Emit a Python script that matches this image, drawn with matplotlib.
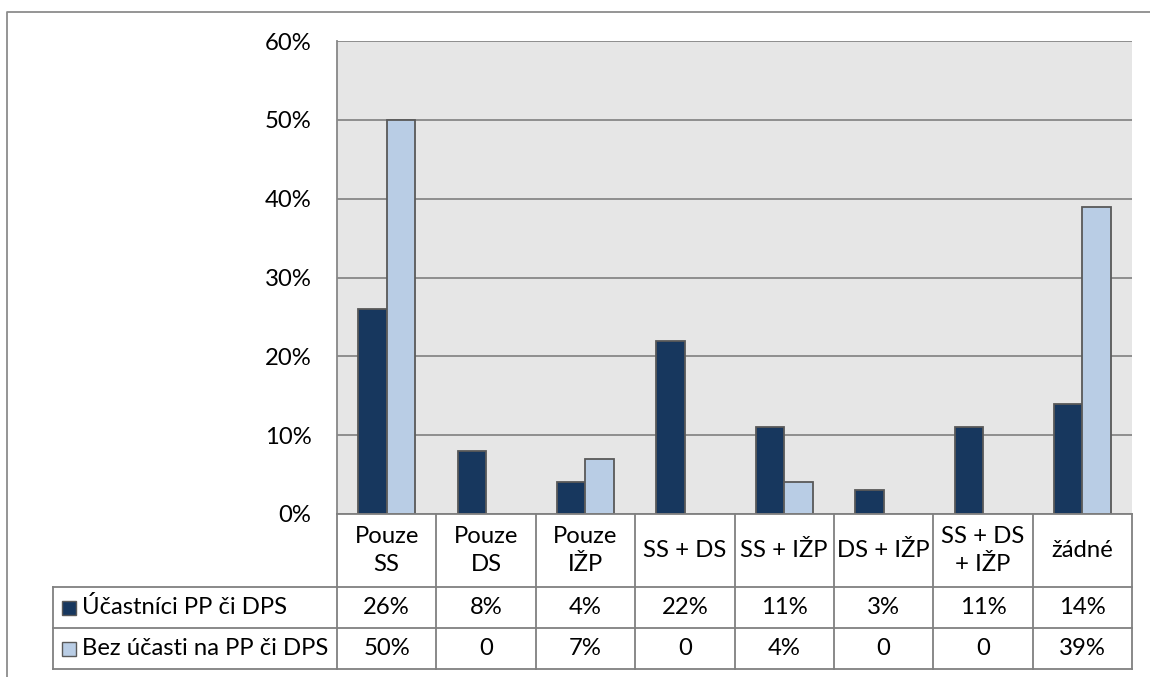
import matplotlib
matplotlib.use("Agg")
import matplotlib.pyplot as plt
from matplotlib.lines import Line2D
from matplotlib.patches import Rectangle
from matplotlib.ticker import FuncFormatter

plt.rcParams["font.family"] = ["Lato", "DejaVu Sans"]

categories = ["Pouze\nSS", "Pouze\nDS", "Pouze\nIŽP", "SS + DS", "SS + IŽP",
              "DS + IŽP", "SS + DS\n+ IŽP", "žádné"]
series_names = ["Účastníci PP či DPS", "Bez účasti na PP či DPS"]
ucastnici = [26, 8, 4, 22, 11, 3, 11, 14]
bez_ucasti = [50, 0, 7, 0, 4, 0, 0, 39]
y_ticks = [0, 10, 20, 30, 40, 50, 60]

dark = "#17375E"
light = "#B9CDE5"
grid_c = "#878787"
edge_c = "#595959"
FS = 17.2

W, H = 1150, 677
fig = plt.figure(figsize=(W / 100, H / 100), dpi=100)

# plot area in pixel coordinates
px_left, px_right, px_top, px_bottom = 337, 1132, 41, 514
ax = fig.add_axes([px_left / W, 1 - px_bottom / H,
                   (px_right - px_left) / W, (px_bottom - px_top) / H])
ax.set_facecolor("#E6E6E6")

n = len(categories)
x = list(range(n))
bw = 0.285
for vals, col, off in [(ucastnici, dark, -bw / 2), (bez_ucasti, light, bw / 2)]:
    lws = [1.3 if v > 0 else 0 for v in vals]
    ax.bar([i + off for i in x], vals, width=bw, color=col,
           edgecolor=edge_c, linewidth=lws, zorder=3)

ax.set_xlim(-0.5, n - 0.5)
ax.set_ylim(0, 60)
ax.set_yticks(y_ticks)
ax.yaxis.set_major_formatter(FuncFormatter(lambda v, p: f"{int(v)}%"))
ax.tick_params(axis="y", length=0, pad=18.5, labelsize=FS)
ax.set_xticks([])
ax.grid(axis="y", color=grid_c, linewidth=1.3, zorder=1)
for s in ["top", "right", "bottom"]:
    ax.spines[s].set_visible(False)
ax.spines["left"].set_color(grid_c)
ax.spines["left"].set_linewidth(1.3)

# data table under the plot (x in data units, y in axes fraction)
tr = ax.get_xaxis_transform()
ah = px_bottom - px_top
unit_px = (px_right - px_left) / n


def ay(py):
    return -(py - px_bottom) / ah


y_hdr_bot = ay(587)
y_r1_bot = ay(628)
y_r2_bot = ay(669)
x_lab_left = -0.5 - (px_left - 53) / unit_px

line_kw = dict(color="#808080", linewidth=1.3, transform=tr, clip_on=False, zorder=5)
for yy, xl in [(0, -0.5), (y_hdr_bot, x_lab_left), (y_r1_bot, x_lab_left),
               (y_r2_bot, x_lab_left)]:
    ax.add_line(Line2D([xl, n - 0.5], [yy, yy], **line_kw))
for k in range(n + 1):
    ax.add_line(Line2D([k - 0.5, k - 0.5], [0, y_r2_bot], **line_kw))
ax.add_line(Line2D([x_lab_left, x_lab_left], [y_hdr_bot, y_r2_bot], **line_kw))

for i, c in enumerate(categories):
    ax.text(i, y_hdr_bot / 2, c, transform=tr, ha="center", va="center",
            fontsize=FS, linespacing=1.4, clip_on=False)


def fmt(v):
    return f"{v}%" if v else "0"


rows = [(series_names[0], ucastnici, dark, (y_hdr_bot + y_r1_bot) / 2),
        (series_names[1], bez_ucasti, light, (y_r1_bot + y_r2_bot) / 2)]
for name, vals, col, yc in rows:
    for i, v in enumerate(vals):
        ax.text(i, yc, fmt(v), transform=tr, ha="center", va="center",
                fontsize=FS, clip_on=False)
    key_w = 14 / unit_px
    key_h = 14 / ah
    kx = x_lab_left + 9 / unit_px
    ax.add_patch(Rectangle((kx, yc - key_h / 2), key_w, key_h, facecolor=col,
                           edgecolor=edge_c, linewidth=1.0, transform=tr,
                           clip_on=False, zorder=6))
    ax.text(kx + key_w + 6 / unit_px, yc, name, transform=tr, ha="left",
            va="center", fontsize=FS, clip_on=False)

# chart frame
fx = 7 / W
fy = 1 - 12 / H
fig.add_artist(Line2D([fx, fx, 1.0], [0.0, fy, fy], color="#8C8C8C",
                      linewidth=1.3, transform=fig.transFigure))

fig.savefig("out.png", dpi=100, facecolor="white")
